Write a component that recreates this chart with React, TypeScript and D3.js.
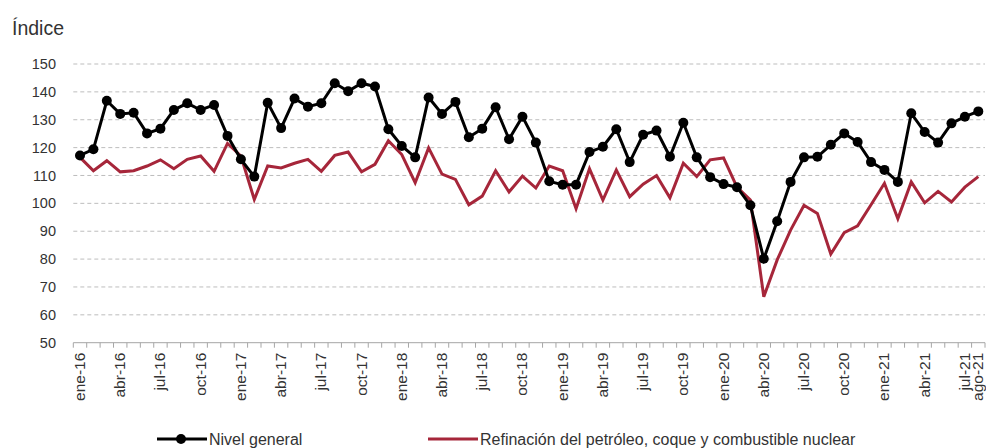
import React, { useEffect, useRef } from "react";
import * as d3 from "d3";

// monthly index, ene-16 .. ago-21
const MONTHS = ["ene", "feb", "mar", "abr", "may", "jun", "jul", "ago", "sep", "oct", "nov", "dic"];
const months: string[] = [];
for (let y = 16; y <= 21; y++) {
  for (let m = 0; m < 12; m++) {
    if (y === 21 && m > 7) break;
    months.push(`${MONTHS[m]}-${y}`);
  }
}

const nivelGeneral = [
  117.2, 119.4, 136.8, 132.1, 132.5, 125.1, 126.8, 133.5, 135.9, 133.5, 135.3, 124.2,
  115.8, 109.6, 136.1, 127.0, 137.6, 134.7, 135.9, 143.1, 140.2, 143.1, 141.9, 126.6,
  120.6, 116.5, 138.0, 132.1, 136.4, 123.7, 126.8, 134.5, 123.0, 131.1, 121.8, 107.9,
  106.7, 106.7, 118.4, 120.3, 126.6, 114.8, 124.6, 126.1, 116.7, 128.9, 116.5, 109.4,
  106.9, 105.8, 99.3, 80.1, 93.6, 107.7, 116.5, 116.7, 121.0, 125.1, 122.0, 114.8,
  112.0, 107.7, 132.3, 125.6, 121.8, 128.7, 131.1, 133.0
];

const refinacion = [
  116.5, 111.7, 115.3, 111.3, 111.7, 113.4, 115.6, 112.4, 115.8, 117.0, 111.5, 121.5,
  117.0, 101.4, 113.4, 112.7, 114.4, 115.8, 111.5, 117.2, 118.4, 111.3, 114.0, 122.5,
  117.5, 107.4, 119.9, 110.5, 108.6, 99.5, 102.6, 111.7, 104.1, 109.8, 105.5, 113.4,
  111.7, 98.1, 112.4, 101.2, 112.0, 102.4, 106.9, 110.0, 102.0, 114.4, 109.6, 115.6,
  116.3, 105.8, 101.2, 66.5, 79.7, 90.4, 99.3, 96.4, 81.8, 89.5, 91.9, 99.5,
  107.2, 94.5, 107.7, 100.2, 104.3, 100.5, 105.8, 109.6
];

const yTicks = [50, 60, 70, 80, 90, 100, 110, 120, 130, 140, 150];

const RED = "#A6263A";
const FONT = "'Liberation Sans', Arial, sans-serif";

export default function App() {
  const ref = useRef<SVGSVGElement>(null);

  useEffect(() => {
    document.body.style.margin = "0";
    const svg = d3.select(ref.current);
    svg.selectAll("*").remove();

    const left = 73.3, right = 985, top = 64, bottom = 342.7;

    const x = d3.scaleBand().domain(months).range([left, right]).padding(0);
    const y = d3.scaleLinear().domain([50, 150]).range([bottom, top]);
    const cx = (d: string) => (x(d) as number) + x.bandwidth() / 2;

    // gridlines
    svg.append("g")
      .selectAll("line")
      .data(yTicks.filter(t => t > 50))
      .join("line")
      .attr("x1", left)
      .attr("x2", right)
      .attr("y1", d => y(d))
      .attr("y2", d => y(d))
      .attr("stroke", "#bdbdbd")
      .attr("stroke-width", 1)
      .attr("stroke-dasharray", "4,3");

    // y labels
    svg.append("g")
      .selectAll("text")
      .data(yTicks)
      .join("text")
      .attr("x", 56)
      .attr("y", d => y(d))
      .attr("dy", "0.35em")
      .attr("text-anchor", "end")
      .attr("font-family", FONT)
      .attr("font-size", 14.5)
      .attr("fill", "#333")
      .text(d => d);

    svg.append("text")
      .attr("x", 12)
      .attr("y", 35)
      .attr("font-family", FONT)
      .attr("font-size", 19.5)
      .attr("fill", "#333")
      .text("Índice");

    // x axis
    const xAxis = svg.append("g");
    xAxis.append("line")
      .attr("x1", left).attr("x2", right)
      .attr("y1", bottom).attr("y2", bottom)
      .attr("stroke", "#a6a6a6").attr("stroke-width", 1);
    xAxis.selectAll("line.tick")
      .data(d3.range(months.length + 1))
      .join("line")
      .attr("class", "tick")
      .attr("x1", i => left + i * x.bandwidth())
      .attr("x2", i => left + i * x.bandwidth())
      .attr("y1", bottom)
      .attr("y2", bottom + 5)
      .attr("stroke", "#a6a6a6");
    xAxis.selectAll("text")
      .data(months.filter((m, i) => i % 3 === 0 || i === months.length - 1))
      .join("text")
      .attr("transform", d => `translate(${cx(d) + 5},${bottom + 10}) rotate(-90)`)
      .attr("text-anchor", "end")
      .attr("font-family", FONT)
      .attr("font-size", 15.5)
      .attr("fill", "#333")
      .text(d => d);

    const line = d3.line<number>()
      .x((_, i) => cx(months[i]))
      .y(d => y(d));

    svg.append("path")
      .datum(refinacion)
      .attr("d", line)
      .attr("fill", "none")
      .attr("stroke", RED)
      .attr("stroke-width", 3)
      .attr("stroke-linejoin", "miter");

    svg.append("path")
      .datum(nivelGeneral)
      .attr("d", line)
      .attr("fill", "none")
      .attr("stroke", "#000")
      .attr("stroke-width", 3);

    svg.append("g")
      .selectAll("circle")
      .data(nivelGeneral)
      .join("circle")
      .attr("cx", (_, i) => cx(months[i]))
      .attr("cy", d => y(d))
      .attr("r", 5)
      .attr("fill", "#000");

    // legend
    const lg = svg.append("g").attr("font-family", FONT).attr("font-size", 16).attr("fill", "#333");
    lg.append("line").attr("x1", 157).attr("x2", 207).attr("y1", 439).attr("y2", 439)
      .attr("stroke", "#000").attr("stroke-width", 3);
    lg.append("circle").attr("cx", 181).attr("cy", 439).attr("r", 5).attr("fill", "#000");
    lg.append("text").attr("x", 209).attr("y", 445).text("Nivel general");
    lg.append("line").attr("x1", 428).attr("x2", 478).attr("y1", 439).attr("y2", 439)
      .attr("stroke", RED).attr("stroke-width", 3);
    lg.append("text").attr("x", 480).attr("y", 445)
      .text("Refinación del petróleo, coque y combustible nuclear");
  }, []);

  return <svg ref={ref} width={986} height={448} style={{ display: "block", background: "#fff" }} />;
}
